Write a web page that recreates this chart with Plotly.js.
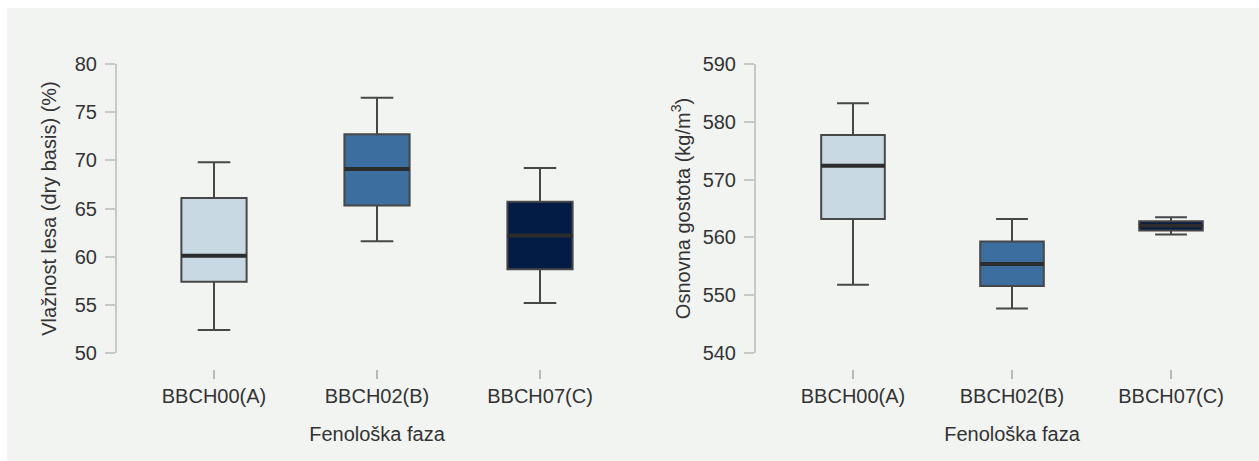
<!DOCTYPE html>
<html>
<head>
<meta charset="utf-8">
<script src="https://cdn.plot.ly/plotly-3.0.1.min.js"></script>
<style>
  html, body { margin: 0; padding: 0; background: #ffffff; }
  #chart { width: 1259px; height: 461px; }
</style>
</head>
<body>
<div id="chart"></div>
<script>
// Categories (phenological phase)
const categories = ['BBCH00(A)', 'BBCH02(B)', 'BBCH07(C)'];

// Left panel: wood moisture (dry basis) (%)
const moistureLower  = [52.4, 61.6, 55.2];
const moistureQ1     = [57.4, 65.3, 58.7];
const moistureMedian = [60.1, 69.1, 62.2];
const moistureQ3     = [66.1, 72.7, 65.7];
const moistureUpper  = [69.8, 76.5, 69.2];

// Right panel: basic density (kg/m3)
const densityLower  = [551.8, 547.7, 560.5];
const densityQ1     = [563.2, 551.6, 561.2];
const densityMedian = [572.4, 555.4, 562.0];
const densityQ3     = [577.7, 559.3, 562.8];
const densityUpper  = [583.2, 563.2, 563.5];

const boxColors = ['#c9d9e3', '#3c6e9f', '#021c45'];

const W = 1259, H = 461;
const fx = px => px / W;
const fy = py => (H - py) / H;

function boxTraces(lower, q1, med, q3, upper, xa, ya) {
  const traces = categories.map((c, i) => ({
    type: 'box',
    x: [c],
    lowerfence: [lower[i]],
    q1: [q1[i]],
    median: [med[i]],
    q3: [q3[i]],
    upperfence: [upper[i]],
    xaxis: xa, yaxis: ya,
    fillcolor: boxColors[i],
    line: { color: '#474747', width: 2 },
    whiskerwidth: 0.5,
    width: 0.4,
    boxpoints: false,
    hoverinfo: 'skip',
    showlegend: false
  }));
  // thicker median line overlay
  traces.push({
    type: 'box',
    x: categories,
    lowerfence: med, q1: med, median: med, q3: med, upperfence: med,
    xaxis: xa, yaxis: ya,
    fillcolor: 'rgba(0,0,0,0)',
    line: { color: '#2c2c2c', width: 4 },
    whiskerwidth: 0,
    width: 0.4,
    boxpoints: false,
    hoverinfo: 'skip',
    showlegend: false
  });
  return traces;
}

const data = [].concat(
  boxTraces(moistureLower, moistureQ1, moistureMedian, moistureQ3, moistureUpper, 'x', 'y'),
  boxTraces(densityLower, densityQ1, densityMedian, densityQ3, densityUpper, 'x2', 'y2')
);

const font = { family: '"Liberation Sans", Arial, sans-serif', size: 20, color: '#333333' };

function xAxis(domain, pos) {
  return {
    domain: domain,
    anchor: 'free',
    position: pos,
    type: 'category',
    categoryorder: 'array',
    categoryarray: categories,
    range: [-0.5, 2.5],
    showline: false,
    showgrid: false,
    zeroline: false,
    ticks: 'outside',
    ticklen: 9,
    tickwidth: 2,
    tickcolor: '#b8b8b8',
    ticklabelstandoff: 0,
    tickfont: font,
    title: { text: 'Fenološka faza', font: font, standoff: 20 },
    automargin: false,
    fixedrange: true
  };
}

function yAxis(range, dtick, pos, title, standoff) {
  return {
    domain: [fy(353), fy(64)],
    anchor: 'free',
    position: pos,
    range: range,
    dtick: dtick,
    showline: true,
    linecolor: '#c8c8c8',
    linewidth: 2,
    showgrid: false,
    zeroline: false,
    ticks: 'outside',
    ticklen: 10,
    tickwidth: 2,
    tickcolor: '#c8c8c8',
    ticklabelstandoff: 4,
    tickfont: font,
    title: { text: title, font: font, standoff: standoff },
    automargin: false,
    fixedrange: true
  };
}

const layout = {
  width: W,
  height: H,
  margin: { l: 0, r: 0, t: 0, b: 0 },
  paper_bgcolor: '#ffffff',
  plot_bgcolor: 'rgba(0,0,0,0)',
  font: font,
  boxmode: 'overlay',
  showlegend: false,
  xaxis: xAxis([fx(132.5), fx(621.5)], fy(369)),
  xaxis2: xAxis([fx(773.5), fx(1250.5)], fy(369)),
  yaxis: yAxis([50, 80], 5, fx(116), 'Vlažnost lesa (dry basis) (%)', 12),
  yaxis2: yAxis([540, 590], 10, fx(755), 'Osnovna gostota (kg/m<sup>3</sup>)', 6),
  shapes: [{
    type: 'rect', xref: 'paper', yref: 'paper',
    x0: fx(7), x1: 1, y0: 0, y1: fy(8),
    fillcolor: '#f2f4f1', line: { width: 0 }, layer: 'below'
  }]
};

Plotly.newPlot('chart', data, layout, { staticPlot: true, displayModeBar: false });
</script>
</body>
</html>
